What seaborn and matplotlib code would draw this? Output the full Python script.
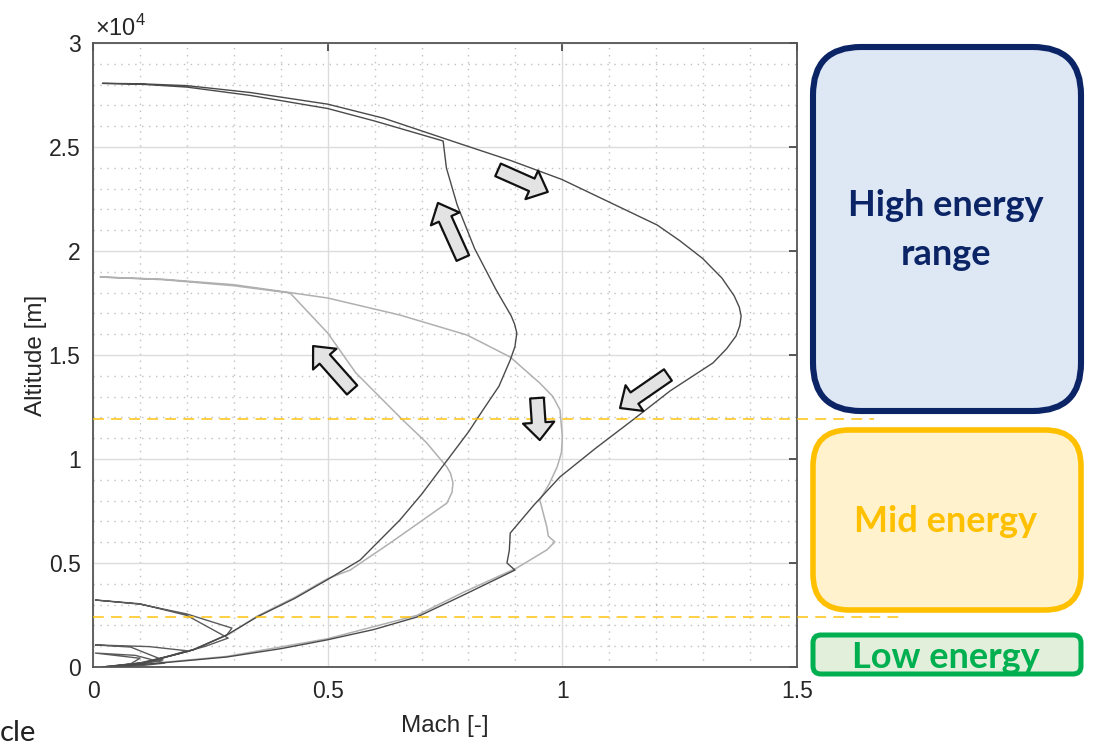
import numpy as np
import pandas as pd
import seaborn as sns
import matplotlib.pyplot as plt
from matplotlib.patches import FancyBboxPatch
from matplotlib.ticker import MultipleLocator, FuncFormatter

sns.set_theme(style='white')
plt.rcParams['font.family'] = ['Liberation Sans', 'DejaVu Sans']
plt.rcParams['mathtext.fontset'] = 'custom'
plt.rcParams['mathtext.rm'] = 'Liberation Sans'

# high energy flight: climb, apex, dive and recovery (Mach, altitude m)
high_mach = [0.02, 0.107, 0.213, 0.285, 0.349, 0.43, 0.498, 0.569, 0.654, 0.70, 0.76, 0.80, 0.831,
             0.865, 0.889, 0.899, 0.903, 0.898, 0.891, 0.858, 0.813, 0.776, 0.753, 0.746,
             0.60, 0.50, 0.335, 0.20, 0.10, 0.02,
             0.10, 0.20, 0.335, 0.50, 0.62, 0.783, 0.89, 0.999, 1.10, 1.202, 1.25, 1.299, 1.34,
             1.366, 1.377, 1.381, 1.378, 1.37, 1.35, 1.321, 1.23, 1.15, 1.07, 0.995, 0.94,
             0.889, 0.887, 0.882, 0.899,
             0.782, 0.69, 0.598, 0.498, 0.40, 0.285, 0.143, 0.036]
high_alt = [0, 190, 820, 1540, 2400, 3300, 4180, 5140, 7070, 8300, 10100, 11300, 12360,
            13500, 14760, 15400, 16060, 16500, 16880, 18170, 20120, 22210, 23990, 25290,
            26250, 26850, 27480, 27880, 28020, 28060,
            28040, 27950, 27620, 27060, 26380, 25150, 24350, 23440, 22350, 21250, 20500, 19640, 18700,
            17850, 17300, 16880, 16400, 15910, 15300, 14620, 13280, 11875, 10500, 9140, 7800,
            6440, 5600, 5000, 4660,
            3380, 2400, 1800, 1300, 880, 480, 190, 0]

# mid energy flight
mid_mach = [0.02, 0.11, 0.215, 0.29, 0.35, 0.43, 0.50, 0.548, 0.633, 0.703, 0.754, 0.765, 0.767,
            0.762, 0.754, 0.71, 0.66, 0.56, 0.50, 0.42, 0.30, 0.15, 0.015,
            0.15, 0.30, 0.42, 0.50, 0.654, 0.797, 0.889, 0.952, 0.98, 0.995, 1.0, 0.998, 0.989, 0.972, 0.952,
            0.967, 0.97, 0.984, 0.967, 0.903, 0.79, 0.69, 0.50, 0.285, 0.143, 0.036]
mid_alt = [0, 210, 850, 1580, 2450, 3350, 4250, 4660, 5960, 7070, 7880, 8400, 8850,
           9300, 9620, 10800, 11875, 14140, 16060, 17980, 18330, 18620, 18750,
           18640, 18380, 18000, 17740, 16920, 15960, 14900, 13650, 13000, 12360, 11060, 10300, 9620, 8800, 8030,
           6730, 6300, 6010, 5630, 4760, 3600, 2480, 1360, 510, 210, 0]

# low energy hops (traj id, Mach, altitude m)
low_id = [1] * 15 + [2] * 9 + [3] * 8
low_mach = [0.02, 0.107, 0.213, 0.285, 0.296, 0.20, 0.10, 0.005, 0.10, 0.20, 0.288, 0.24, 0.18, 0.10, 0.03,
            0.03, 0.12, 0.20, 0.12, 0.005, 0.08, 0.149, 0.10, 0.04,
            0.02, 0.08, 0.10, 0.005, 0.09, 0.153, 0.10, 0.04]
low_alt = [0, 190, 820, 1540, 1870, 2550, 3020, 3220, 3040, 2480, 1390, 1000, 620, 200, 0,
           0, 250, 780, 980, 1060, 960, 340, 120, 0,
           0, 150, 420, 670, 560, 190, 60, 0]

# energy band limits (altitude m) and how far the dashes run (Mach)
band_alt = [11900, 2400]
band_end = [1.665, 1.73]

# direction arrows: (tail Mach, tail alt, head Mach, head alt)
arrows = [(0.863, 23900, 0.969, 22840),
          (0.788, 19660, 0.735, 22310),
          (0.552, 13320, 0.469, 15430),
          (0.946, 12930, 0.952, 10910),
          (1.225, 14040, 1.123, 12450)]

band_labels = ['High energy\nrange', 'Mid energy', 'Low energy']

fig = plt.figure(figsize=(10.94, 7.45), dpi=100)
ax = fig.add_axes([93 / 1094, 1 - 667 / 745, 704 / 1094, 624 / 745])

df_high = pd.DataFrame({'mach': high_mach, 'alt': high_alt})
df_mid = pd.DataFrame({'mach': mid_mach, 'alt': mid_alt})
df_low = pd.DataFrame({'traj': low_id, 'mach': low_mach, 'alt': low_alt})

sns.lineplot(data=df_mid, x='mach', y='alt', sort=False, estimator=None,
             color='#b0b0b0', lw=1.1, ax=ax)
sns.lineplot(data=df_low, x='mach', y='alt', units='traj', sort=False, estimator=None,
             color='#5a5a5a', lw=1.0, ax=ax)
sns.lineplot(data=df_high, x='mach', y='alt', sort=False, estimator=None,
             color='#4a4a4a', lw=1.0, ax=ax)

for a, xe in zip(band_alt, band_end):
    ax.plot([0, xe], [a, a], color='#ffc000', alpha=0.8, lw=1.3, ls=(0, (6, 4)), clip_on=False, zorder=3)

for x0, y0, x1, y1 in arrows:
    ax.annotate('', xy=(x1, y1), xytext=(x0, y0),
                arrowprops=dict(arrowstyle='simple,head_length=0.7,head_width=1.25,tail_width=0.55',
                                mutation_scale=18, fc='#e3e3e3', ec='#111111', lw=1.6,
                                shrinkA=0, shrinkB=0), zorder=5)

ax.set_xlim(0, 1.5)
ax.set_ylim(0, 30000)
ax.xaxis.set_major_locator(MultipleLocator(0.5))
ax.xaxis.set_minor_locator(MultipleLocator(0.1))
ax.yaxis.set_major_locator(MultipleLocator(5000))
ax.yaxis.set_minor_locator(MultipleLocator(1000))
ax.xaxis.set_major_formatter(FuncFormatter(lambda v, p: f'{v:g}'))
ax.yaxis.set_major_formatter(FuncFormatter(lambda v, p: f'{v / 1e4:g}'))
ax.set_axisbelow(True)
ax.grid(which='major', color='#dcdcdc', lw=1.0, ls='-')
ax.grid(which='minor', color='#c0c0c0', lw=1.0, ls=(0, (1, 4)))
ax.tick_params(which='major', direction='in', length=6, top=True, right=True,
               labelsize=16.5, labelcolor='#262626', color='#444444', pad=9)
ax.tick_params(which='minor', length=0)
for s in ax.spines.values():
    s.set_color('#555555')
    s.set_linewidth(1.3)

ax.set_xlabel('Mach [-]', fontsize=17.5, color='#262626')
ax.set_ylabel('Altitude [m]', fontsize=17.5, color='#262626')
ax.xaxis.set_label_coords(0.5, -0.077)
ax.yaxis.set_label_coords(-0.066, 0.5)
ax.text(0.003, 1.004, r'$\times10^{4}$', transform=ax.transAxes, fontsize=17,
        color='#262626', ha='left', va='bottom')

# overlay in pixel coordinates for the energy band boxes
ov = fig.add_axes([0, 0, 1, 1])
ov.set_xlim(0, 1094)
ov.set_ylim(745, 0)
ov.axis('off')
ov.patch.set_alpha(0)

boxes = [((813, 47, 268, 364), 48, '#dee8f5', '#0b2466', 4.4),
         ((813, 430, 268, 180), 36, '#fff2cc', '#ffc000', 4.0),
         ((813, 635, 268, 39), 8, '#e2efda', '#00b050', 3.6)]
text_pos = [(946, 230), (946, 522), (946, 668)]
text_col = ['#0b2466', '#ffc000', '#00b050']
for (b, r, fc, ec, lw), lab, (tx, ty), tc in zip(boxes, band_labels, text_pos, text_col):
    p = FancyBboxPatch((b[0], b[1]), b[2], b[3], boxstyle=f'round,pad=0,rounding_size={r}',
                       fc=fc, ec=ec, lw=lw)
    ov.add_patch(p)
    va = 'baseline' if lab == 'Low energy' else 'center'
    t = ov.text(tx, ty, lab, ha='center', va=va, fontsize=26, fontweight='bold',
                color=tc, family=['Lato', 'DejaVu Sans'], linespacing=1.6)
    if lab == 'Low energy':
        t.set_clip_path(p)

ov.text(0, 741, 'cle', ha='left', va='baseline', fontsize=21, color='#222222',
        family=['Lato', 'DejaVu Sans'])

fig.savefig('out.png', dpi=100, facecolor='white')
